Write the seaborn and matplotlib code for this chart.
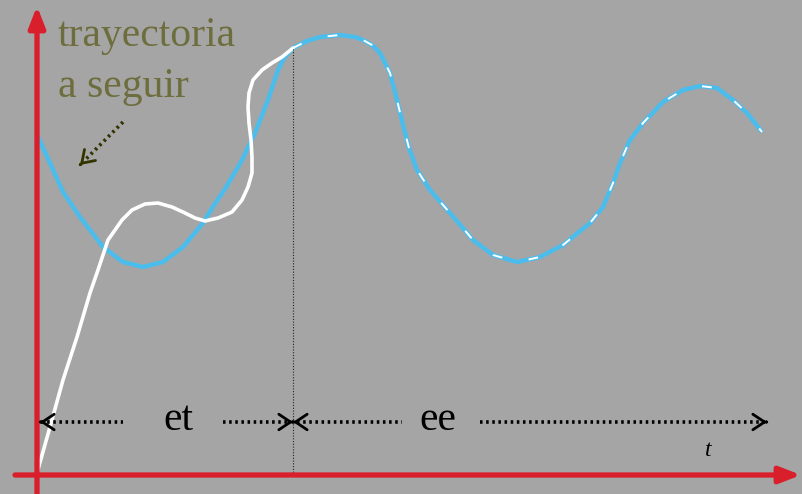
import matplotlib
matplotlib.use("Agg")
import matplotlib.pyplot as plt
import seaborn as sns

# reference trajectory (blue)
ref_t = [0, 13, 26, 43, 66, 86, 106, 126, 146, 166, 177, 188, 205, 218, 231, 241, 247, 256,
         270, 283, 303, 318, 326, 335, 343, 353, 360, 366, 372, 380, 393, 413, 436, 456, 480,
         503, 526, 553, 566, 576, 583, 593, 606, 626, 646, 663, 680, 696, 710, 725]
ref_y = [338, 310, 281, 256, 226, 211, 206, 211, 226, 250, 268, 284, 313, 340, 373, 403, 415, 425,
         432, 436, 438, 436, 433, 428, 420, 400, 373, 348, 325, 303, 283, 260, 233, 218, 211,
         216, 228, 250, 266, 290, 310, 333, 350, 371, 383, 387, 385, 373, 360, 341]

# transient response (white) until it joins the trajectory
resp_t = [0, 13, 26, 40, 53, 61, 71, 85, 95, 108, 121, 135, 148, 158, 168, 181, 195, 205,
          211, 215, 215, 214, 212, 211, 212, 216, 225, 235, 245, 256]
resp_y = [0, 46, 93, 136, 180, 203, 233, 253, 263, 269, 270, 266, 260, 255, 252, 255, 261, 273,
          286, 300, 316, 333, 350, 366, 380, 393, 403, 410, 416, 425]

t_join = 256
labels = ["et", "ee"]
label_t = [141, 401]

bg = "#a5a5a5"
red = "#d91f2b"
blue = "#4bbdec"
olive = "#6d6d3d"

sns.set_style("white")
plt.rcParams["font.family"] = ["Liberation Serif", "DejaVu Serif"]

fig = plt.figure(figsize=(8.03, 4.94), dpi=100, facecolor=bg)
ax = fig.add_axes([0, 0, 1, 1])
ax.set_facecolor(bg)
ax.set_xlim(-37, 766)
ax.set_ylim(-21, 473)
ax.axis("off")

# coordinate axes
ax.annotate("", xy=(764, -2), xytext=(-22, -2),
            arrowprops=dict(arrowstyle="-|>,head_length=0.9,head_width=0.35", color=red,
                            lw=3.8, shrinkA=0, shrinkB=0, mutation_scale=14))
ax.annotate("", xy=(0, 467), xytext=(0, -21),
            arrowprops=dict(arrowstyle="-|>,head_length=0.9,head_width=0.35", color=red,
                            lw=3.8, shrinkA=0, shrinkB=0, mutation_scale=14))

# curves
sns.lineplot(x=ref_t, y=ref_y, sort=False, estimator=None, color=blue, lw=3.2, ax=ax,
             solid_joinstyle="round", solid_capstyle="butt")
sns.lineplot(x=resp_t, y=resp_y, sort=False, estimator=None, color="white", lw=2.6, ax=ax,
             solid_joinstyle="round")
tail_t = [t for t in ref_t if t >= t_join]
tail_y = [y for t, y in zip(ref_t, ref_y) if t >= t_join]
ax.plot(tail_t, tail_y, color="white", lw=1.4, dashes=(5, 14))

# split between transient and steady state
ax.plot([t_join, t_join], [-2, 425], color="#222222", lw=0.8, ls=(0, (1, 1.5)))

# dimension arrows
y_dim = 51
dot = dict(color="black", lw=2.6, ls=(0, (0.7, 1.0)))
ax.plot([4, 86], [y_dim, y_dim], **dot)
ax.plot([186, t_join - 4], [y_dim, y_dim], **dot)
ax.plot([t_join + 4, 365], [y_dim, y_dim], **dot)
ax.plot([443, 728], [y_dim, y_dim], **dot)
head = dict(arrowstyle="->,head_length=0.6,head_width=0.4", color="black", lw=2,
            shrinkA=0, shrinkB=0, mutation_scale=14)
for tip, d in [(3, 1), (t_join, -1), (t_join, 1), (730, -1)]:
    ax.annotate("", xy=(tip, y_dim), xytext=(tip + d * 0.5, y_dim), arrowprops=head)
for lab, lt in zip(labels, label_t):
    ax.text(lt, y_dim + 2, lab, fontsize=30, ha="center", va="center", color="black")

ax.text(671, 23, "t", fontsize=17, style="italic", ha="center", va="center", color="black")

# annotation for the reference
ax.text(21, 427, "trayectoria", fontsize=30, color=olive, ha="left", va="baseline")
ax.text(21, 376, "a seguir", fontsize=30, color=olive, ha="left", va="baseline")
ax.plot([86, 47], [351, 312], color="#333300", lw=2.6, ls=(0, (0.7, 1.0)))
ax.annotate("", xy=(43, 308), xytext=(43.5, 308.5),
            arrowprops=dict(arrowstyle="->,head_length=0.6,head_width=0.4", color="#333300",
                            lw=2, shrinkA=0, shrinkB=0, mutation_scale=14))

fig.savefig("out.png", dpi=100, facecolor=bg)
